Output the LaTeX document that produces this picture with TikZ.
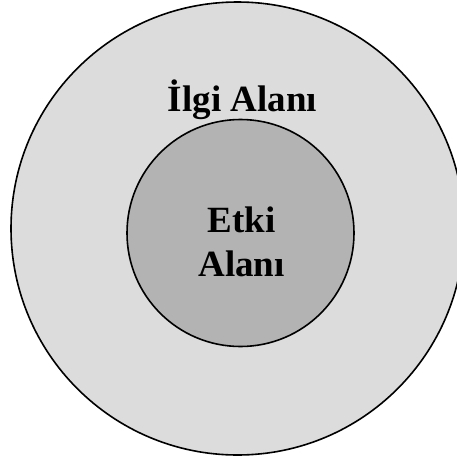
\documentclass[tikz,border=0pt]{standalone}
\usepackage{fontspec}
\setmainfont{Liberation Serif}
\definecolor{outerfill}{HTML}{DCDCDC}
\definecolor{innerfill}{HTML}{B3B3B3}
\begin{document}
\begin{tikzpicture}[x=1pt,y=-1pt,
  zone/.style={circle,draw=black,line width=1.6pt,inner sep=0pt},
  lbl/.style={font=\fontsize{37}{44}\selectfont\bfseries,align=center,inner sep=0pt}]
\useasboundingbox (0,0) rectangle (457,459);
\node[zone,fill=outerfill,minimum size=453pt] (ilgi) at (237.5,228.5) {};
\node[zone,fill=innerfill,minimum size=227pt] (etki) at (240.5,233) {};
\node[lbl,anchor=base] (ilgilbl) at (242.5,111.5) {İlgi Alanı};
\node[lbl,anchor=base] (etkilbl1) at (241.5,232) {Etki};
\node[lbl,anchor=base] (etkilbl2) at (241.5,276) {Alanı};
\end{tikzpicture}
\end{document}
